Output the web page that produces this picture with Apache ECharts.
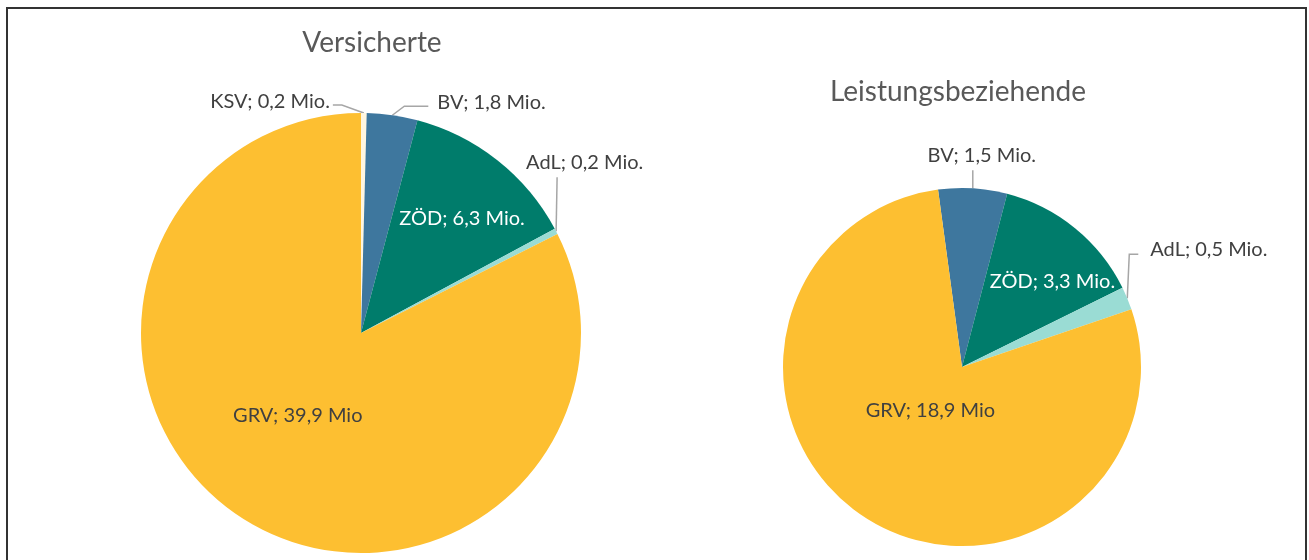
<!DOCTYPE html>
<html>
<head>
<meta charset="utf-8">
<script src="https://cdn.jsdelivr.net/npm/echarts@6/dist/echarts.min.js"></script>
<style>
  html, body { margin: 0; padding: 0; background: #fff; }
  #frame {
    position: absolute; left: 6px; top: 7px;
    width: 1297px; height: 600px;
    border: 2px solid #333; border-bottom: none;
  }
  #chart { position: absolute; left: 0; top: 0; width: 1309px; height: 560px; }
</style>
</head>
<body>
<div id="frame"></div>
<div id="chart"></div>
<script>
// Versicherte
const catsVers = ['KSV', 'BV', 'ZÖD', 'AdL', 'GRV']
const valsVers = [0.2, 1.8, 6.3, 0.2, 39.9]
const unitVers = ['Mio.', 'Mio.', 'Mio.', 'Mio.', 'Mio']

// Leistungsbeziehende
const catsLeist = ['BV', 'ZÖD', 'AdL', 'GRV']
const valsLeist = [1.5, 3.3, 0.5, 18.9]
const unitLeist = ['Mio.', 'Mio.', 'Mio.', 'Mio']

const colors = {
  KSV: '#FFF6E0',
  BV: '#3E779E',
  'ZÖD': '#007C6B',
  AdL: '#9ADCD4',
  GRV: '#FDBF31'
}
const textDark = '#404040'
const font = 'Lato'

// leader line shapes + label shifts (relative to the slice edge / default spot)
const tweaksVers = {
  KSV: { pts: [[-22, -8], [-31, -8]], off: [-3, -3], align: 'right' },
  BV: { pts: [[12, -9], [36, -9]], off: [9, -4], align: 'left' },
  AdL: { pts: [[1, -54]], off: [-31, -15], align: 'left' },
  'ZÖD': { shift: [31, -26] },
  GRV: { shift: [-4, -14] }
}
const tweaksLeist = {
  BV: { pts: [[0, -18]], off: [9, -15], align: 'center' },
  AdL: { pts: [[2, -44], [11, -44]], off: [12, -5], align: 'left' },
  'ZÖD': { shift: [32, -14] },
  GRV: { shift: [17, -35] }
}

const fmtNum = v => String(v).replace('.', ',')

const buildData = (cats, vals, units) => cats.map((c, i) => {
  const inside = c === 'ZÖD' || c === 'GRV'
  return {
    name: c,
    value: vals[i],
    itemStyle: { color: colors[c] },
    label: {
      position: inside ? 'inside' : 'outside',
      color: c === 'ZÖD' ? '#fff' : textDark,
      formatter: c + '; ' + fmtNum(vals[i]) + ' ' + units[i]
    },
    labelLine: { show: !inside }
  }
})

const makeLayout = (cats, tweaks) => params => {
  const t = tweaks[cats[params.dataIndex]]
  if (!t) return {}
  if (t.shift) return { dx: t.shift[0], dy: t.shift[1] }
  if (!params.labelLinePoints) return {}
  const p0 = params.labelLinePoints[0]
  const pts = [p0].concat(t.pts.map(d => [p0[0] + d[0], p0[1] + d[1]]))
  const end = pts[pts.length - 1]
  return {
    x: end[0] + t.off[0],
    y: end[1] + t.off[1],
    align: t.align,
    verticalAlign: 'middle',
    labelLinePoints: pts
  }
}

const pieBase = {
  type: 'pie',
  clockwise: true,
  avoidLabelOverlap: false,
  itemStyle: { borderWidth: 0 },
  label: { fontFamily: font, fontSize: 20 },
  labelLine: { lineStyle: { color: '#A6A6A6', width: 1.5 } },
  emphasis: { disabled: true }
}

const chart = echarts.init(document.getElementById('chart'))
chart.setOption({
  animation: false,
  title: [
    {
      text: 'Versicherte', left: 372, top: 29, textAlign: 'center', padding: 0,
      textStyle: { fontFamily: font, fontSize: 28, fontWeight: 'normal', color: '#595959' }
    },
    {
      text: 'Leistungsbeziehende', left: 958, top: 78, textAlign: 'center', padding: 0,
      textStyle: { fontFamily: font, fontSize: 28, fontWeight: 'normal', color: '#595959' }
    }
  ],
  series: [
    {
      ...pieBase,
      name: 'Versicherte',
      center: [361, 333],
      radius: 220,
      startAngle: 90,
      data: buildData(catsVers, valsVers, unitVers),
      labelLayout: makeLayout(catsVers, tweaksVers)
    },
    {
      ...pieBase,
      name: 'Leistungsbeziehende',
      center: [962, 367],
      radius: 179,
      startAngle: 97.7,
      data: buildData(catsLeist, valsLeist, unitLeist),
      labelLayout: makeLayout(catsLeist, tweaksLeist)
    }
  ]
})
</script>
</body>
</html>
